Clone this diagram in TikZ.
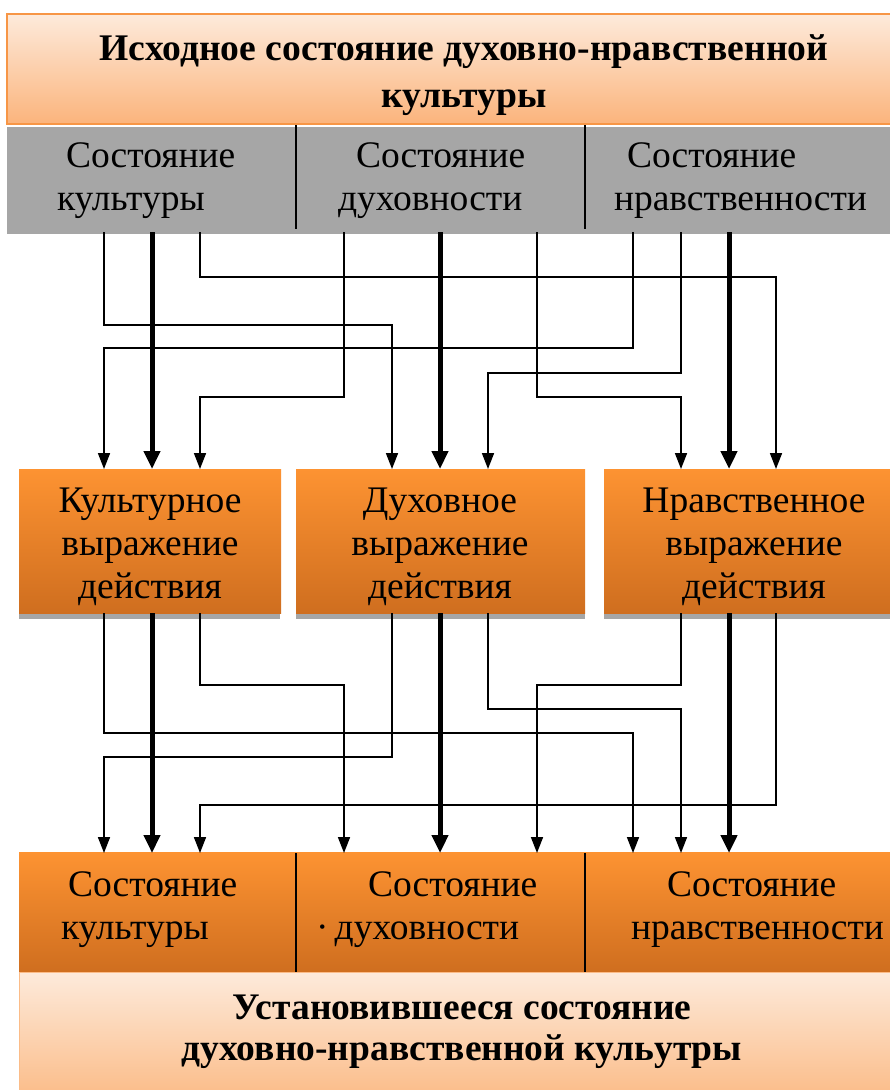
\documentclass[tikz,border=0pt]{standalone}
\usepackage{fontspec}
\setmainfont{Liberation Serif}
\usetikzlibrary{arrows.meta}
\definecolor{orA}{HTML}{FD9332}
\definecolor{orB}{HTML}{CF6E1F}
\definecolor{pkA}{HTML}{FDEADB}
\definecolor{pkB}{HTML}{FBB47C}
\definecolor{pkC}{HTML}{FBBC88}
\definecolor{bord}{HTML}{F79646}
\definecolor{bandgray}{HTML}{A6A6A6}
\begin{document}
\begin{tikzpicture}[x=1pt,y=-1pt,
  box/.style={rectangle,inner sep=0pt,outer sep=0pt},
  orangebox/.style={box,top color=orA,bottom color=orB,draw=none},
  txt/.style={inner sep=0pt,outer sep=0pt,font=\fontsize{37.5}{43}\selectfont},
  headtxt/.style={inner sep=0pt,outer sep=0pt,align=center},
  divider/.style={line width=1.5pt,black},
  thinarr/.style={line width=1.7pt,-{Triangle[length=16pt,width=12pt]}},
  thickarr/.style={line width=5pt,-{Triangle[length=18pt,width=16pt]}}]
\useasboundingbox (0,0) rectangle (890,1090);
\clip (0,0) rectangle (890,1090);
\fill[white] (0,0) rectangle (890,1090);

% top heading
\node[box,draw=bord,line width=2pt,top color=pkA,bottom color=pkB,
  minimum width=914pt,minimum height=110pt] (head) at (464,69) {};
\node[headtxt,font=\fontsize{37.6}{47}\selectfont\bfseries] (headt) at (464,75)
  {Исходное состояние духовно-нравственной\\культуры};

% gray band
\node[box,fill=bandgray,minimum width=900pt,minimum height=107pt] (band) at (457,180.5) {};
\draw[divider] (296,125) -- (296,229);
\draw[divider] (585,125) -- (585,229);
\node[txt,align=left,anchor=west] (g1) at (57,181) {\hspace*{9pt}Состояние\\культуры};
\node[txt,align=left,anchor=west] (g2) at (338,181) {\hspace*{18pt}Состояние\\духовности};
\node[txt,align=left,anchor=west] (g3) at (614,181) {\hspace*{13pt}Состояние\\нравственности};

% middle boxes
\fill[bandgray] (19,475) rectangle (280,619);
\fill[bandgray] (296,475) rectangle (585,619);
\fill[bandgray] (604,475) rectangle (904,619);
\node[orangebox,minimum width=262pt,minimum height=144pt] (m1) at (150,541) {};
\node[orangebox,minimum width=289pt,minimum height=144pt] (m2) at (440.5,541) {};
\node[orangebox,minimum width=300pt,minimum height=144pt] (m3) at (754,541) {};
\node[txt,align=center] (m1t) at (150,547) {Культурное\\выражение\\действия};
\node[txt,align=center] (m2t) at (440,547) {Духовное\\выражение\\действия};
\node[txt,align=center] (m3t) at (754,547) {Нравственное\\выражение\\действия};

% bottom band
\node[orangebox,minimum width=885pt,minimum height=120pt] (bband) at (461.5,912.5) {};
\draw[divider] (296,853) -- (296,972);
\draw[divider] (585,853) -- (585,972);
\node[txt,align=left,anchor=west] (b1t) at (61,910) {\hspace*{7pt}Состояние\\культуры};
\node[txt,align=left,anchor=west] (b2t) at (316,910) {\hspace*{52pt}Состояние\\·\,духовности};
\node[txt,align=left,anchor=west] (b3t) at (631,910) {\hspace*{36pt}Состояние\\нравственности};

% bottom heading
\node[box,draw=pkC,line width=1pt,top color=pkA,bottom color=pkC,
  minimum width=886pt,minimum height=125pt] (foot) at (462,1035) {};
\node[headtxt,font=\fontsize{37.5}{41}\selectfont\bfseries] (foott) at (462,1032)
  {Установившееся состояние\\духовно-нравственной кульутры};

% connector end points
\foreach \x in {104,152,200,344,440,537,633,681,729} {\coordinate (s\x) at (\x,232);}
\foreach \x in {104,152,200,392,440,488,681,729,776} {\coordinate (m\x) at (\x,469);}
\foreach \x in {104,152,200,392,440,488,681,729,776} {\coordinate (q\x) at (\x,613);}
\foreach \x in {104,152,200,344,440,537,633,681,729} {\coordinate (b\x) at (\x,853);}

% upper connectors
\draw[thinarr] (s104) -- ++(0,93) -| (m392);
\draw[thickarr] (s152) -- (m152);
\draw[thinarr] (s200) -- ++(0,45) -| (m776);
\draw[thinarr] (s344) -- ++(0,165) -| (m200);
\draw[thickarr] (s440) -- (m440);
\draw[thinarr] (s537) -- ++(0,165) -| (m681);
\draw[thinarr] (s633) -- ++(0,116) -| (m104);
\draw[thinarr] (s681) -- ++(0,141) -| (m488);
\draw[thickarr] (s729) -- (m729);

% lower connectors
\draw[thinarr] (q104) -- ++(0,120) -| (b633);
\draw[thickarr] (q152) -- (b152);
\draw[thinarr] (q200) -- ++(0,72) -| (b344);
\draw[thinarr] (q392) -- ++(0,144) -| (b104);
\draw[thickarr] (q440) -- (b440);
\draw[thinarr] (q488) -- ++(0,96) -| (b681);
\draw[thinarr] (q681) -- ++(0,72) -| (b537);
\draw[thickarr] (q729) -- (b729);
\draw[thinarr] (q776) -- ++(0,192) -| (b200);
\end{tikzpicture}
\end{document}
